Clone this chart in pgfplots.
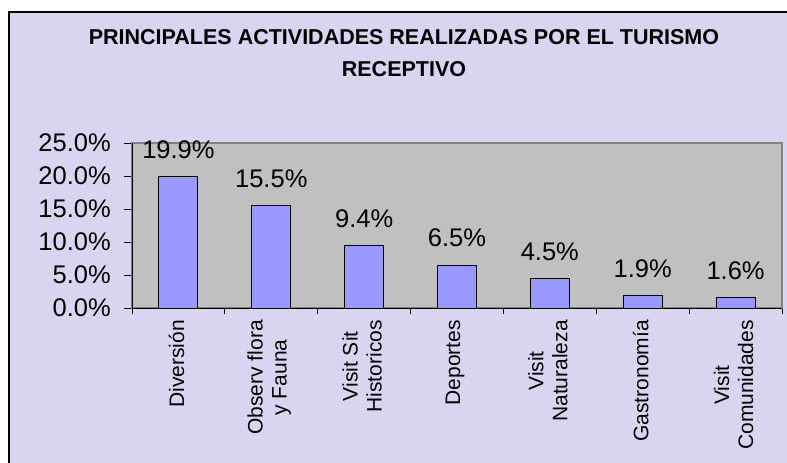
\documentclass[border=0pt]{standalone}
\usepackage{fontspec}
\setmainfont{Liberation Sans}
\usepackage{pgfplots}
\pgfplotsset{compat=1.18}
\definecolor{bgl}{RGB}{217,213,240}
\definecolor{pgray}{RGB}{192,192,192}
\definecolor{barc}{RGB}{153,153,255}
\definecolor{bordg}{RGB}{128,128,128}
\begin{document}
\begin{tikzpicture}
\useasboundingbox (0bp,0bp) rectangle (787bp,463bp);
\fill[white] (0bp,0bp) rectangle (787bp,463bp);
\draw[line width=2bp, fill=bgl] (9bp,-10bp) rectangle (800bp,451bp);
\node[font=\fontsize{21.5bp}{32bp}\selectfont\bfseries, align=center, inner sep=0pt] at (404bp,410bp) {PRINCIPALES ACTIVIDADES REALIZADAS POR EL TURISMO\\RECEPTIVO};
\begin{axis}[
  at={(132bp,155bp)}, anchor=south west, scale only axis,
  width=650bp, height=165bp,
  xmin=-0.5, xmax=6.5, ymin=0, ymax=25,
  clip=false,
  /pgf/number format/assume math mode=true,
  axis background/.style={fill=pgray},
  axis line style={draw=bordg, line width=1.2bp},
  xtick={0,...,6},
  xticklabels={Diversión, {Observ flora\\y Fauna}, {Visit Sit\\Historicos}, Deportes, {Visit\\Naturaleza}, Gastronomía, {Visit\\Comunidades}},
  xticklabel style={rotate=90, anchor=east, align=center, font=\fontsize{21bp}{24bp}\selectfont, inner sep=0pt, xshift=-4bp, yshift=2bp},
  major x tick style={draw=none},
  minor xtick={-0.5,0.5,...,6.5},
  ytick={0,5,...,25},
  yticklabel={\pgfmathprintnumber[fixed,fixed zerofill,precision=1]{\tick}\%},
  yticklabel style={anchor=east, font=\fontsize{25.5bp}{30bp}\selectfont, inner sep=0pt, xshift=-13bp},
  tick align=outside, tick pos=left,
  major tick length=8bp, minor tick length=6bp,
  tick style={black, line width=1bp},
]
\addplot[ybar, bar width=39bp, fill=barc, draw=black, line width=1bp,
  nodes near coords={\pgfmathprintnumber[fixed,fixed zerofill,precision=1]{\pgfplotspointmeta}\%},
  nodes near coords style={font=\fontsize{25.5bp}{30bp}\selectfont, anchor=center, yshift=27bp, black}]
  coordinates {(0,19.9) (1,15.5) (2,9.4) (3,6.5) (4,4.5) (5,1.9) (6,1.6)};
\draw[black, line width=1bp] (rel axis cs:0,1) -- (rel axis cs:0,0) -- (rel axis cs:1,0);
\end{axis}
\end{tikzpicture}
\end{document}
